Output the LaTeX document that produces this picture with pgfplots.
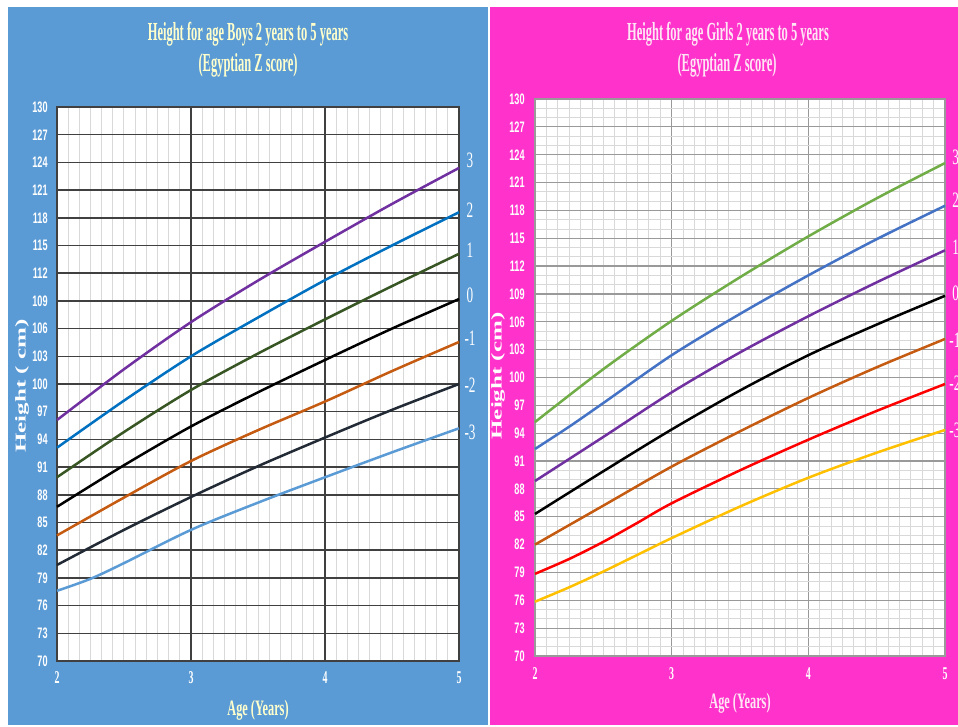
\documentclass[border=0pt]{standalone}
\usepackage{pgfplots}
\pgfplotsset{compat=1.18}
\usepackage{fontspec}
\setmainfont{Liberation Sans}
\newfontfamily\tnr{Liberation Serif}
\usepackage{graphicx}
\definecolor{boysbg}{HTML}{5B9BD5}
\definecolor{girlsbg}{HTML}{FF33CC}
\definecolor{bpurple}{HTML}{7030A0}
\definecolor{bblue}{HTML}{0070C0}
\definecolor{bgreen}{HTML}{375623}
\definecolor{borange}{HTML}{C55A11}
\definecolor{bnavy}{HTML}{222A35}
\definecolor{blight}{HTML}{5B9BD5}
\definecolor{ggreen}{HTML}{70AD47}
\definecolor{gblue}{HTML}{4472C4}
\definecolor{gyellow}{HTML}{FFC000}
\definecolor{boytitle}{HTML}{FFFFCC}
\definecolor{girltitle}{HTML}{FFE6F5}
\tikzset{
  ttl/.style={font=\tnr\bfseries\fontsize{13}{14}\selectfont, inner sep=0pt},
  zlab/.style={font=\tnr\fontsize{11}{12}\selectfont, text=white, inner sep=0pt},
}
\pgfplotsset{
  common/.style={
    anchor=south west, scale only axis,
    xmin=2, xmax=5, ymin=70, ymax=130,
    xtick={2,3,4,5}, ytick={70,73,...,130},
    minor x tick num=11,
    grid=both,
    axis background/.style={fill=white},
    major tick length=0pt, minor tick length=0pt,
    yticklabel={\scalebox{0.6}[1]{\pgfmathprintnumber[assume math mode=true]{\tick}}},
    yticklabel style={font=\bfseries\fontsize{7.6}{8}\selectfont, text=white, inner sep=0pt},
    xticklabel={\scalebox{0.55}[1]{\tnr\bfseries\pgfmathprintnumber[assume math mode=true]{\tick}}},
    xticklabel style={font=\fontsize{9}{10}\selectfont, text=white, inner sep=0pt},
    clip=false,
  },
  cv/.style={smooth, no markers, line width=1.25pt},
}
\begin{document}
\begin{tikzpicture}
\useasboundingbox (0,0) rectangle (479pt,363.5pt);
\clip (0,0) rectangle (479pt,363.5pt);
\fill[white] (0,0) rectangle (479pt,363.5pt);
\fill[boysbg] (4pt,1pt) rectangle (244pt,360pt);
\fill[girlsbg] (245pt,1pt) rectangle (479pt,360pt);

% titles
\node[ttl, text=boytitle] at (124pt,346.5pt) {\scalebox{0.48}[1]{Height for age Boys 2 years to 5 years}};
\node[ttl, text=boytitle] at (124pt,331pt) {\scalebox{0.48}[1]{(Egyptian Z score)}};
\node[ttl, text=girltitle] at (364pt,346.5pt) {\scalebox{0.48}[1]{Height for age Girls 2 years to 5 years}};
\node[ttl, text=girltitle] at (363.5pt,331pt) {\scalebox{0.48}[1]{(Egyptian Z score)}};
\node[font=\tnr\bfseries\fontsize{11}{12}\selectfont, text=boytitle, inner sep=0pt] at (129pt,8.5pt) {\scalebox{0.56}[1]{Age (Years)}};
\node[font=\tnr\bfseries\fontsize{11}{12}\selectfont, text=girltitle, inner sep=0pt] at (370pt,12pt) {\scalebox{0.56}[1]{Age (Years)}};
\node[font=\tnr\bfseries\fontsize{12.5}{14}\selectfont, text=white, inner sep=0pt] at (11pt,170.5pt) {\scalebox{0.6}[1]{\rotatebox{90}{Height ( cm)}}};
\node[font=\tnr\bfseries\fontsize{12.5}{14}\selectfont, text=white, inner sep=0pt] at (249pt,175.5pt) {\scalebox{0.6}[1]{\rotatebox{90}{Height (cm)}}};

% Boys
\begin{axis}[common,
  at={(28.5pt,33pt)}, width=201pt, height=277pt,
  major grid style={black!75, line width=0.75pt},
  minor grid style={black!15, line width=0.5pt},
  axis line style={black!75, line width=0.75pt},
  yticklabel style={xshift=-4.5pt},
  xticklabel style={yshift=-5pt},
]
\addplot[cv, bpurple] coordinates {(2,96.1)(2.5,101.6)(3,106.7)(3.5,111.2)(4,115.4)(4.5,119.5)(5,123.4)};
\addplot[cv, bblue] coordinates {(2,93.1)(2.5,98.2)(3,103.0)(3.5,107.2)(4,111.25)(4.5,115.0)(5,118.6)};
\addplot[cv, bgreen] coordinates {(2,89.9)(2.5,94.8)(3,99.35)(3.5,103.3)(4,107.0)(4.5,110.6)(5,114.1)};
\addplot[cv, black] coordinates {(2,86.7)(2.5,91.2)(3,95.4)(3.5,99.1)(4,102.6)(4.5,106.0)(5,109.2)};
\addplot[cv, borange] coordinates {(2,83.6)(2.5,87.7)(3,91.66)(3.5,95.0)(4,98.1)(4.5,101.4)(5,104.55)};
\addplot[cv, bnavy] coordinates {(2,80.4)(2.5,84.2)(3,87.76)(3.5,91.1)(4,94.2)(4.5,97.2)(5,100.0)};
\addplot[cv, blight] coordinates {(2,77.6)(2.25,78.9)(2.5,80.6)(3,84.2)(3.5,87.15)(4,89.9)(4.5,92.6)(5,95.2)};
\node[zlab, xshift=5.5pt] at (axis cs:5,124.26) {\scalebox{0.6}[1]{3}};
\node[zlab, xshift=5.5pt] at (axis cs:5,118.84) {\scalebox{0.6}[1]{2}};
\node[zlab, xshift=5.5pt] at (axis cs:5,114.5) {\scalebox{0.6}[1]{1}};
\node[zlab, xshift=5.5pt] at (axis cs:5,109.6) {\scalebox{0.6}[1]{0}};
\node[zlab, xshift=5.5pt] at (axis cs:5,105.0) {\scalebox{0.6}[1]{-1}};
\node[zlab, xshift=5.5pt] at (axis cs:5,99.9) {\scalebox{0.6}[1]{-2}};
\node[zlab, xshift=5.5pt] at (axis cs:5,94.8) {\scalebox{0.6}[1]{-3}};
\end{axis}

% Girls
\begin{axis}[common,
  at={(267.5pt,35.5pt)}, width=205pt, height=278.5pt,
  minor y tick num=2,
  major grid style={black!40, line width=0.6pt},
  minor grid style={black!15, line width=0.4pt},
  axis line style={black!40, line width=0.6pt},
  yticklabel style={xshift=-5pt},
  xticklabel style={yshift=-5.5pt},
]
\addplot[cv, ggreen] coordinates {(2,95.2)(2.5,100.9)(3,106.1)(3.5,110.8)(4,115.2)(4.5,119.3)(5,123.1)};
\addplot[cv, gblue] coordinates {(2,92.3)(2.25,94.7)(2.5,97.25)(3,102.4)(3.5,106.85)(4,111.0)(4.5,114.9)(5,118.5)};
\addplot[cv, bpurple] coordinates {(2,88.85)(2.5,93.6)(3,98.4)(3.5,102.7)(4,106.6)(4.5,110.25)(5,113.7)};
\addplot[cv, black] coordinates {(2,85.3)(2.5,89.9)(3,94.4)(3.5,98.6)(4,102.4)(4.5,105.7)(5,108.8)};
\addplot[cv, borange] coordinates {(2,82.0)(2.5,86.2)(3,90.4)(3.5,94.2)(4,97.8)(4.5,101.1)(5,104.15)};
\addplot[cv, red] coordinates {(2,78.85)(2.25,80.45)(2.5,82.3)(2.75,84.35)(3,86.45)(3.5,90.0)(4,93.3)(4.5,96.4)(5,99.3)};
\addplot[cv, gyellow] coordinates {(2,75.85)(2.25,77.4)(2.5,79.1)(2.75,80.9)(3,82.7)(3.5,86.1)(4,89.2)(4.5,91.9)(5,94.35)};
\node[zlab, anchor=west, xshift=3.5pt] at (axis cs:5,123.75) {\scalebox{0.6}[1]{3}};
\node[zlab, anchor=west, xshift=3.5pt] at (axis cs:5,119.1) {\scalebox{0.6}[1]{2}};
\node[zlab, anchor=west, xshift=3.5pt] at (axis cs:5,114.06) {\scalebox{0.6}[1]{1}};
\node[zlab, anchor=west, xshift=3.5pt] at (axis cs:5,109.1) {\scalebox{0.6}[1]{0}};
\node[zlab, anchor=west, xshift=2pt] at (axis cs:5,104.0) {\scalebox{0.6}[1]{-1}};
\node[zlab, anchor=west, xshift=2pt] at (axis cs:5,99.4) {\scalebox{0.6}[1]{-2}};
\node[zlab, anchor=west, xshift=2pt] at (axis cs:5,94.35) {\scalebox{0.6}[1]{-3}};
\end{axis}
\end{tikzpicture}
\end{document}
